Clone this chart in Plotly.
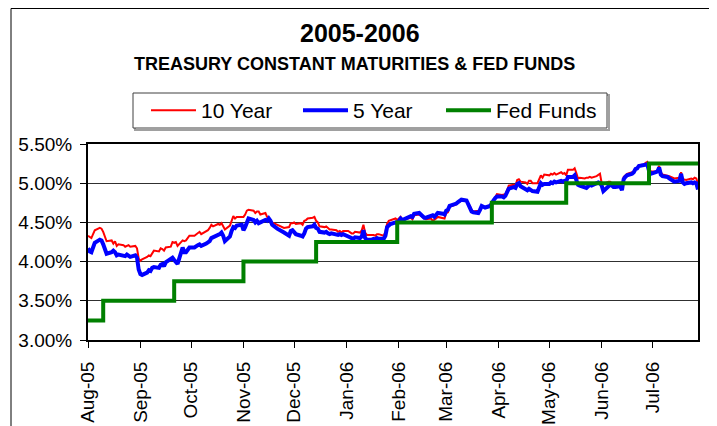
import pandas as pd
import plotly.graph_objects as go

# ---- data (percent), business days Aug-01-2005 .. Jul-28-2006 ----
ten_year = [
    4.33, 4.32, 4.30, 4.35, 4.40, 4.43, 4.42, 4.38, 4.33, 4.26, 4.27, 4.23, 4.26, 4.20, 4.22, 4.21, 4.19, 4.20, 4.21, 4.19, 4.20, 4.17, 4.04,  # Aug-05
    4.01, 4.03, 4.06, 4.08, 4.07, 4.10, 4.14, 4.13, 4.17, 4.16, 4.14, 4.18, 4.19, 4.25, 4.24, 4.25, 4.20, 4.27, 4.26, 4.27, 4.30, 4.33,  # Sep-05
    4.33, 4.35, 4.36, 4.38, 4.35, 4.38, 4.40, 4.43, 4.47, 4.45, 4.48, 4.47, 4.49, 4.45, 4.41, 4.46, 4.52, 4.58, 4.55, 4.57, 4.57,  # Oct-05
    4.57, 4.60, 4.65, 4.66, 4.65, 4.62, 4.64, 4.64, 4.60, 4.62, 4.57, 4.55, 4.50, 4.50, 4.47, 4.46, 4.45, 4.45, 4.43, 4.44, 4.49, 4.49,  # Nov-05
    4.50, 4.48, 4.49, 4.47, 4.52, 4.53, 4.55, 4.56, 4.57, 4.52, 4.50, 4.45, 4.44, 4.45, 4.43, 4.41, 4.41, 4.40, 4.38, 4.39, 4.37, 4.39,  # Dec-05
    4.39, 4.37, 4.36, 4.36, 4.38, 4.37, 4.40, 4.47, 4.37, 4.34, 4.34, 4.34, 4.33, 4.35, 4.35, 4.33, 4.38, 4.48, 4.52, 4.53, 4.55, 4.53,  # Jan-06
    4.55, 4.57, 4.53, 4.55, 4.56, 4.56, 4.54, 4.59, 4.60, 4.58, 4.56, 4.55, 4.54, 4.55, 4.52, 4.53, 4.55, 4.57, 4.56, 4.55,  # Feb-06
    4.62, 4.63, 4.70, 4.72, 4.73, 4.75, 4.76, 4.78, 4.77, 4.74, 4.71, 4.66, 4.64, 4.65, 4.66, 4.70, 4.69, 4.69, 4.72, 4.75, 4.77, 4.82, 4.86,  # Mar-06
    4.85, 4.86, 4.86, 4.91, 4.97, 4.98, 4.97, 5.04, 5.05, 5.02, 5.01, 4.99, 5.03, 5.03, 5.00, 5.00, 5.06, 5.10, 5.07, 5.11,  # Apr-06
    5.10, 5.12, 5.11, 5.13, 5.11, 5.14, 5.12, 5.13, 5.10, 5.17, 5.17, 5.19, 5.13, 5.06, 5.07, 5.06, 5.07, 5.07, 5.08, 5.07, 5.09, 5.11, 5.12,  # May-06
    5.00, 4.99, 5.02, 5.02, 5.00, 4.97, 4.98, 4.99, 4.96, 5.08, 5.10, 5.12, 5.14, 5.15, 5.19, 5.19, 5.23, 5.24, 5.26, 5.27, 5.19, 5.15,  # Jun-06
    5.15, 5.16, 5.22, 5.14, 5.11, 5.10, 5.09, 5.08, 5.07, 5.06, 5.07, 5.14, 5.05, 5.04, 5.04, 5.06, 5.05, 5.07, 5.06, 4.99,  # Jul-06
]

five_year = [
    4.17, 4.13, 4.12, 4.17, 4.24, 4.28, 4.27, 4.22, 4.17, 4.10, 4.12, 4.14, 4.12, 4.08, 4.09, 4.08, 4.07, 4.09, 4.08, 4.06, 4.08, 4.05, 3.90,  # Aug-05
    3.84, 3.83, 3.86, 3.89, 3.88, 3.92, 3.93, 3.92, 3.96, 3.97, 3.94, 3.99, 4.03, 4.05, 4.02, 4.00, 3.97, 4.18, 4.12, 4.12, 4.15, 4.18,  # Sep-05
    4.18, 4.20, 4.21, 4.22, 4.20, 4.23, 4.25, 4.26, 4.30, 4.31, 4.33, 4.35, 4.37, 4.33, 4.26, 4.32, 4.39, 4.44, 4.43, 4.46, 4.47,  # Oct-05
    4.40, 4.44, 4.50, 4.55, 4.53, 4.50, 4.52, 4.49, 4.50, 4.53, 4.52, 4.55, 4.52, 4.47, 4.42, 4.41, 4.39, 4.39, 4.37, 4.33, 4.39, 4.40,  # Nov-05
    4.38, 4.35, 4.33, 4.32, 4.36, 4.42, 4.44, 4.45, 4.47, 4.43, 4.42, 4.38, 4.37, 4.38, 4.36, 4.35, 4.36, 4.35, 4.34, 4.35, 4.34, 4.35,  # Dec-05
    4.33, 4.31, 4.30, 4.29, 4.31, 4.30, 4.32, 4.40, 4.30, 4.28, 4.28, 4.29, 4.28, 4.30, 4.29, 4.29, 4.33, 4.44, 4.46, 4.48, 4.50, 4.49,  # Jan-06
    4.52, 4.55, 4.53, 4.56, 4.57, 4.58, 4.57, 4.61, 4.62, 4.60, 4.58, 4.56, 4.56, 4.58, 4.59, 4.57, 4.59, 4.62, 4.61, 4.60,  # Feb-06
    4.65, 4.66, 4.71, 4.73, 4.74, 4.76, 4.77, 4.79, 4.78, 4.74, 4.70, 4.64, 4.63, 4.62, 4.66, 4.71, 4.70, 4.69, 4.71, 4.76, 4.78, 4.81, 4.83,  # Mar-06
    4.83, 4.82, 4.84, 4.88, 4.93, 4.95, 4.94, 4.99, 5.00, 4.96, 4.93, 4.91, 4.93, 4.92, 4.90, 4.89, 4.95, 5.00, 4.98, 4.99,  # Apr-06
    4.99, 5.01, 5.00, 5.02, 5.01, 5.03, 5.02, 5.03, 5.02, 5.08, 5.08, 5.10, 5.04, 4.98, 4.97, 4.95, 4.94, 4.96, 4.98, 4.97, 4.99, 5.01, 5.00,  # May-06
    4.97, 4.90, 4.96, 4.98, 4.97, 4.95, 4.95, 4.96, 4.91, 5.05, 5.08, 5.10, 5.12, 5.14, 5.18, 5.19, 5.22, 5.23, 5.23, 5.24, 5.16, 5.12,  # Jun-06
    5.14, 5.15, 5.20, 5.11, 5.09, 5.08, 5.06, 5.05, 5.04, 5.02, 5.03, 5.12, 5.01, 4.99, 5.00, 5.01, 5.00, 5.01, 5.00, 4.92,  # Jul-06
]

fed_dates = ["2005-08-01", "2005-08-10", "2005-09-21", "2005-11-01", "2005-12-14",
             "2006-01-31", "2006-03-28", "2006-05-11", "2006-06-29", "2006-07-28"]
fed_funds = [3.25, 3.50, 3.75, 4.00, 4.25, 4.50, 4.75, 5.00, 5.25, 5.25]

tick_dates = ["2005-08-01", "2005-09-01", "2005-10-01", "2005-11-01", "2005-12-01", "2006-01-01",
              "2006-02-01", "2006-03-01", "2006-04-01", "2006-05-01", "2006-06-01", "2006-07-01"]
tick_labels = ["Aug-05", "Sep-05", "Oct-05", "Nov-05", "Dec-05", "Jan-06",
               "Feb-06", "Mar-06", "Apr-06", "May-06", "Jun-06", "Jul-06"]
y_ticks = [3.0, 3.5, 4.0, 4.5, 5.0, 5.5]

dates = pd.bdate_range("2005-08-01", "2006-07-28")
assert len(dates) == len(ten_year) == len(five_year), (len(dates), len(ten_year), len(five_year))

FONT = "Liberation Sans, Arial, sans-serif"
OFF = 8                      # the page body adds an 8px margin around the figure
W, H = 717 - OFF, 426 - OFF
L, R, T, B = 88 - OFF, 698 - OFF, 144 - OFF, 340 - OFF

def px(xp):                  # xp, yp: positions in reference-picture pixels
    return (xp - OFF - L) / (R - L)

def py(yp):
    return (B - (yp - OFF)) / (B - T)

fig = go.Figure()
fig.add_trace(go.Scatter(x=dates, y=ten_year, name="10 Year", mode="lines", legendwidth=92,
                         line=dict(color="#FF0000", width=2)))
fig.add_trace(go.Scatter(x=dates, y=five_year, name="5 Year", mode="lines", legendwidth=83,
                         line=dict(color="#0000FF", width=4)))
fig.add_trace(go.Scatter(x=pd.to_datetime(fed_dates), y=fed_funds, name="Fed Funds", mode="lines",
                         legendwidth=100, line=dict(color="#008000", width=4, shape="hv")))

fig.update_layout(
    width=W, height=H, autosize=False,
    margin=dict(l=L, r=W - R, t=T, b=H - B, pad=0, autoexpand=False),
    paper_bgcolor="white", plot_bgcolor="white",
    font=dict(family=FONT, color="black", size=19),
    showlegend=True,
    legend=dict(orientation="h", x=px(146), xanchor="left", y=py(90), yanchor="top",
                borderwidth=0, bgcolor="rgba(0,0,0,0)",
                font=dict(family=FONT, size=21, color="black"),
                itemwidth=45, tracegroupgap=0),
    xaxis=dict(type="date", range=[dates[0], dates[-1]], automargin=False,
               tickmode="array", tickvals=pd.to_datetime(tick_dates), ticktext=tick_labels,
               tickangle=-90, ticks="outside", ticklen=6, tickcolor="black", tickwidth=1,
               ticklabelstandoff=6,
               showline=True, linecolor="black", linewidth=2, mirror=True,
               showgrid=False, zeroline=False, tickfont=dict(size=19)),
    yaxis=dict(range=[3.0, 5.5], tickmode="array", tickvals=y_ticks, automargin=False,
               ticktext=[f"{v:.2f}%" for v in y_ticks], ticklabelstandoff=4,
               ticks="outside", ticklen=6, tickcolor="black", tickwidth=1,
               showline=True, linecolor="black", linewidth=2, mirror=True,
               showgrid=True, gridcolor="#303030", gridwidth=1, zeroline=False,
               tickfont=dict(size=19)),
    annotations=[
        dict(text="<b>2005-2006</b>", xref="paper", yref="paper", x=px(360), y=py(33),
             xanchor="center", yanchor="middle", showarrow=False,
             font=dict(family=FONT, size=25, color="black")),
        dict(text="<b>TREASURY CONSTANT MATURITIES & FED FUNDS</b>", xref="paper", yref="paper",
             x=px(354), y=py(64), xanchor="center", yanchor="middle", showarrow=False,
             font=dict(family=FONT, size=18, color="black")),
    ],
    shapes=[
        dict(type="rect", xref="paper", yref="paper", x0=px(11), x1=px(714), y0=py(440), y1=py(8.5),
             line=dict(color="black", width=1), fillcolor="rgba(0,0,0,0)", layer="below"),
        # legend frame with a light drop shadow
        dict(type="rect", xref="paper", yref="paper", x0=px(135), x1=px(609), y0=py(130), y1=py(95),
             line=dict(color="#A0A0A0", width=2), fillcolor="rgba(0,0,0,0)", layer="below"),
        dict(type="rect", xref="paper", yref="paper", x0=px(133), x1=px(607), y0=py(128), y1=py(93),
             line=dict(color="#404040", width=1), fillcolor="white", layer="below"),
    ],
)

fig.write_html("out.html")
